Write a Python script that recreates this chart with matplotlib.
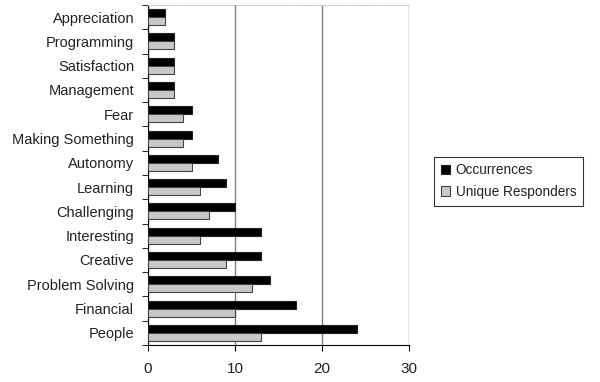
import matplotlib
matplotlib.use('Agg')
import matplotlib.pyplot as plt
import numpy as np

plt.rcParams['font.family'] = ['Liberation Sans', 'DejaVu Sans']

# Категорії зверху вниз
categories = ['Appreciation', 'Programming', 'Satisfaction', 'Management', 'Fear',
              'Making Something', 'Autonomy', 'Learning', 'Challenging', 'Interesting',
              'Creative', 'Problem Solving', 'Financial', 'People']
occurrences = [2, 3, 3, 3, 5, 5, 8, 9, 10, 13, 13, 14, 17, 24]
unique_responders = [2, 3, 3, 3, 4, 4, 5, 6, 7, 6, 9, 12, 10, 13]

n = len(categories)
y = np.arange(n)
h = 0.33

fig = plt.figure(figsize=(6, 3.82), dpi=100)
ax = fig.add_axes([0.2467, 0.097, 0.435, 0.89])

ax.barh(y - h / 2, occurrences, height=h, color='black', edgecolor='#222222',
        linewidth=0.8, label='Occurrences', zorder=3)
ax.barh(y + h / 2, unique_responders, height=h, color='#c8c8c8', edgecolor='#444444',
        linewidth=0.8, label='Unique Responders', zorder=3)

ax.set_xlim(0, 30)
ax.set_ylim(n - 0.5, -0.5)
ax.set_xticks([0, 10, 20, 30])
ax.set_yticks(y)
ax.set_yticklabels(categories, fontsize=10.5, color='#222222')
ax.tick_params(axis='y', length=0, pad=10)
ax.set_yticks(np.arange(-0.5, n, 1), minor=True)
ax.tick_params(axis='y', which='minor', length=4, direction='out')
ax.tick_params(axis='x', labelsize=11, labelcolor='#222222', length=4,
               direction='out', pad=8)

ax.grid(axis='x', color='#808080', linewidth=1, zorder=0)
ax.spines['right'].set_visible(False)
ax.spines['top'].set_color('#c0c0c0')
ax.spines['top'].set_linestyle(':')
ax.spines['left'].set_color('black')
ax.spines['bottom'].set_color('black')

leg = fig.legend(loc='upper left', bbox_to_anchor=(0.712, 0.608), fontsize=9.8,
                 frameon=True, fancybox=False, edgecolor='black',
                 handlelength=0.7, handleheight=0.7, handletextpad=0.4,
                 borderpad=0.5, labelspacing=0.55)
leg.get_frame().set_linewidth(0.8)
for t in leg.get_texts():
    t.set_color('#222222')

plt.savefig('out.png', dpi=100)
